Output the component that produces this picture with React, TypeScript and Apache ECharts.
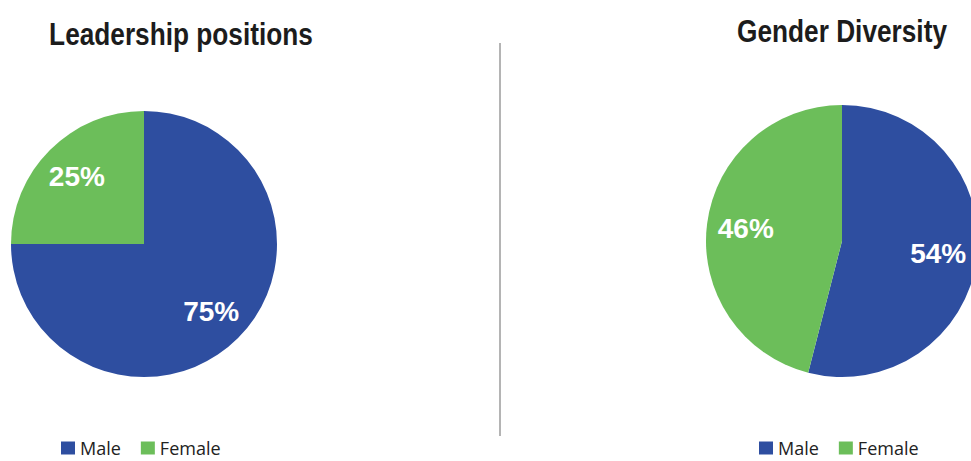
import React, { useEffect, useRef } from "react";
import * as echarts from "echarts";

const categories = ["Male", "Female"];
const leadershipValues = [75, 25];
const diversityValues = [54, 46];
const titles = ["Leadership positions", "Gender Diversity"];
const colors = ["#2E4EA0", "#6CBE5A"];

const sans = "'Liberation Sans', Arial, sans-serif";

function pieData(values: number[]) {
  return categories.map((name, i) => ({ name, value: values[i] }));
}

function pieSeries(values: number[], center: number[], r: number) {
  return [
    {
      type: "pie",
      center,
      radius: [0, r],
      startAngle: 90,
      clockwise: true,
      data: pieData(values),
      label: { show: false },
      labelLine: { show: false },
      itemStyle: { borderWidth: 0 },
      emphasis: { disabled: true },
    },
    {
      type: "pie",
      center,
      radius: [Math.round(r * 0.38), r],
      startAngle: 90,
      clockwise: true,
      data: pieData(values),
      silent: true,
      itemStyle: { color: "transparent", borderWidth: 0 },
      label: {
        show: true,
        position: "inside",
        formatter: "{c}%",
        color: "#ffffff",
        fontFamily: sans,
        fontWeight: "bold",
        fontSize: 28,
      },
      labelLine: { show: false },
      emphasis: { disabled: true },
    },
  ];
}

export default function App() {
  const ref = useRef<HTMLDivElement>(null);
  useEffect(() => {
    if (!ref.current) return;
    const chart = echarts.init(ref.current, undefined, { renderer: "svg" });
    const legendBase = {
      data: categories,
      orient: "horizontal",
      top: 439,
      padding: 0,
      itemWidth: 14,
      itemHeight: 13,
      itemGap: 20,
      icon: "rect",
      textStyle: {
        fontFamily: "'Open Sans', sans-serif",
        fontSize: 18,
        lineHeight: 18,
        color: "#222",
      },
    };
    const titleText = (text: string, x: number, y: number) => ({
      type: "text",
      x,
      y,
      scaleX: 0.82,
      silent: true,
      style: {
        text,
        fill: "#1c1c1c",
        font: "bold 32px " + sans,
        textAlign: "center",
        textVerticalAlign: "top",
      },
    });
    chart.setOption({
      animation: false,
      backgroundColor: "#ffffff",
      color: colors,
      legend: [
        { ...legendBase, left: 61 },
        { ...legendBase, left: 759 },
      ],
      graphic: [
        titleText(titles[0], 181, 18),
        titleText(titles[1], 842, 15),
        {
          type: "line",
          shape: { x1: 500, y1: 43, x2: 500, y2: 436 },
          style: { stroke: "#b4b4b4", lineWidth: 2 },
          silent: true,
        },
      ],
      series: [
        ...pieSeries(leadershipValues, [144, 244], 133),
        ...pieSeries(diversityValues, [842, 241], 136),
      ],
    });
    return () => chart.dispose();
  }, []);
  return (
    <div
      ref={ref}
      style={{ position: "fixed", left: 0, top: 0, width: 971, height: 461 }}
    />
  );
}
